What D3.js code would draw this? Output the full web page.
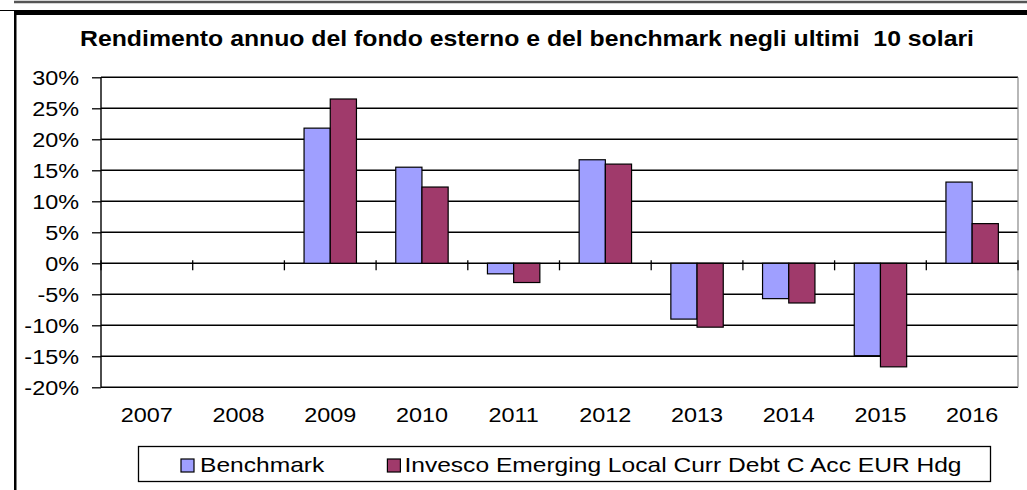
<!DOCTYPE html>
<html><head><meta charset="utf-8">
<script src="https://cdn.jsdelivr.net/npm/d3@7"></script>
<style>
html,body{margin:0;padding:0;background:#fff;}
svg{display:block;font-family:"Liberation Sans",Arial,sans-serif;}
</style></head>
<body>
<svg id="c" width="1027" height="490"></svg>
<script>
const titleText = "Rendimento annuo del fondo esterno e del benchmark negli ultimi  10 solari";
const years = ["2007","2008","2009","2010","2011","2012","2013","2014","2015","2016"];
const seriesNames = ["Benchmark","Invesco Emerging Local Curr Debt C Acc EUR Hdg"];
const benchmark = [null,null,21.8,15.5,-1.7,16.7,-9.0,-5.7,-14.9,13.1];
const invesco   = [null,null,26.5,12.3,-3.1,16.0,-10.3,-6.4,-16.7,6.4];
const yTicks = [30,25,20,15,10,5,0,-5,-10,-15,-20];
const colors = ["#9f9fff","#a03a6b"];

(function(){
const SX = 1.17; // horizontal glyph stretch seen in the reference
const svg = d3.select("#c");
function stretch(sel){
  sel.each(function(){
    const w = this.getComputedTextLength();
    d3.select(this).attr("textLength", w*SX).attr("lengthAdjust","spacingAndGlyphs");
  });
}

// frame
svg.append("line").attr("x1",14).attr("x2",1027).attr("y1",2).attr("y2",2).attr("stroke","#555").attr("stroke-width",2.5);
svg.append("line").attr("x1",0).attr("x2",14).attr("y1",10.5).attr("y2",10.5).attr("stroke","#000").attr("stroke-width",1);
svg.append("rect").attr("x",14).attr("y",10).attr("width",1013).attr("height",5).attr("fill","#000");
svg.append("rect").attr("x",14).attr("y",10).attr("width",2.5).attr("height",480).attr("fill","#000");

// title
const t = svg.append("text").attr("x",527).attr("y",46).attr("text-anchor","middle")
  .style("white-space","pre")
  .attr("font-size",21.2).attr("font-weight","bold").attr("fill","#000").text(titleText);
stretch(t);

const pLeft=101, pRight=1018, pTop=77.3, pBottom=387.3;
const y = d3.scaleLinear().domain([-20,30]).range([pBottom, pTop]);
const x0 = d3.scaleBand().domain(years).range([pLeft,pRight]).paddingInner(0).paddingOuter(0);
const groupW = x0.bandwidth()*2/3.5;
const x1 = d3.scaleBand().domain(seriesNames).range([0,groupW]);

// gridlines
svg.append("g").selectAll("line").data(yTicks).join("line")
  .attr("x1",pLeft).attr("x2",pRight).attr("y1",d=>y(d)).attr("y2",d=>y(d))
  .attr("stroke","#000").attr("stroke-width",1.4);
// right border
svg.append("line").attr("x1",pRight).attr("x2",pRight).attr("y1",pTop).attr("y2",pBottom).attr("stroke","#888").attr("stroke-width",1.2);

// y axis
const yAxis = d3.axisLeft(y).tickValues(yTicks).tickSize(9).tickPadding(13).tickFormat(d=>d+"%");
const gy = svg.append("g").attr("transform",`translate(${pLeft},0)`).call(yAxis);
gy.select(".domain").remove();
gy.selectAll(".tick line").attr("stroke","#000").attr("stroke-width",1.3);
gy.append("line").attr("x1",0).attr("x2",0).attr("y1",pTop).attr("y2",pBottom).attr("stroke","#000").attr("stroke-width",1.4);
gy.selectAll(".tick text").attr("font-size",20).attr("fill","#000").attr("font-family","Liberation Sans, Arial, sans-serif").attr("dy","0.35em");
stretch(gy.selectAll(".tick text"));

// x ticks at zero line (category boundaries)
const bounds = years.map(d=>x0(d)).concat([pRight]);
svg.append("g").selectAll("line").data(bounds).join("line")
  .attr("x1",d=>d).attr("x2",d=>d).attr("y1",y(0)-3).attr("y2",y(0)+7)
  .attr("stroke","#000").attr("stroke-width",1.3);

// x labels
const xl = svg.append("g").selectAll("text").data(years).join("text")
  .attr("x",d=>x0(d)+x0.bandwidth()/2).attr("y",421.5).attr("text-anchor","middle")
  .attr("font-size",20).attr("fill","#000").text(d=>d);
stretch(xl);

// bars
const data = [benchmark, invesco];
const gx0 = x0.bandwidth()/2 - groupW/2;
data.forEach((vals,si)=>{
  svg.append("g").selectAll("rect").data(years.map((yr,i)=>({yr,v:vals[i]})).filter(d=>d.v!==null)).join("rect")
    .attr("x",d=>x0(d.yr)+gx0+x1(seriesNames[si]))
    .attr("width",x1.bandwidth())
    .attr("y",d=>y(Math.max(0,d.v)))
    .attr("height",d=>Math.abs(y(d.v)-y(0)))
    .attr("fill",colors[si]).attr("stroke","#000").attr("stroke-width",1.2);
});

// legend
const lg = svg.append("g");
lg.append("rect").attr("x",138.5).attr("y",446.5).attr("width",852).attr("height",35)
  .attr("fill","#fff").attr("stroke","#000").attr("stroke-width",1.3);
let lx = 181;
seriesNames.forEach((n,i)=>{
  lg.append("rect").attr("x",lx).attr("y",459).attr("width",13).attr("height",13)
    .attr("fill",colors[i]).attr("stroke","#000").attr("stroke-width",1.2);
  const tx = lg.append("text").attr("x",lx+ (i===0?19:17)).attr("y",472).attr("font-size",21).attr("fill","#000").text(n);
  stretch(tx);
  lx = lx + (i===0?19:17) + tx.node().getComputedTextLength()*SX + 42;
});
})();
</script>
</body></html>
